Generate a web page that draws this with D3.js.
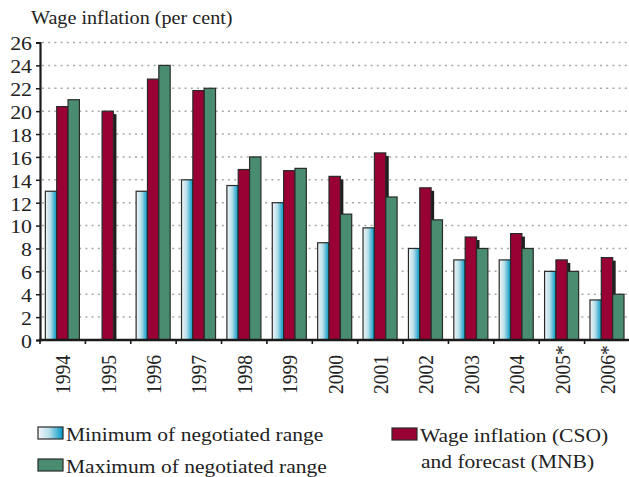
<!DOCTYPE html>
<html>
<head>
<meta charset="utf-8">
<script src="https://cdn.jsdelivr.net/npm/d3@7"></script>
<style>
  body { margin: 0; background: #fff; }
  svg { display: block; font-family: "Liberation Serif", "Times New Roman", serif; }
</style>
</head>
<body>
<svg id="chart" width="629" height="477"></svg>
<script>
// data
var years = ["1994","1995","1996","1997","1998","1999","2000","2001","2002","2003","2004","2005*","2006*"];
var minRange = [13, null, 13, 14, 13.5, 12, 8.5, 9.8, 8, 7, 7, 6, 3.5];
var wageCSO  = [20.4, 20, 22.8, 21.8, 14.9, 14.8, 14.3, 16.35, 13.3, 9, 9.3, 7, 7.2];
var maxRange = [21, null, 24, 22, 16, 15, 11, 12.5, 10.5, 8, 8, 6, 4];
var yTicks = d3.range(0, 27, 2);

var svg = d3.select("#chart");
var stretch = 1.12; // the original type is a bit wide

var plotL = 40, plotR = 630, plotT = 42.5, plotB = 340;

var x0 = d3.scaleBand().domain(years).range([plotL, plotR]);
var x1 = d3.scaleBand().domain(["min", "cso", "max"])
  .range([x0.bandwidth() * 0.118, x0.bandwidth() * 0.868]);
var y = d3.scaleLinear().domain([0, 26]).range([plotB, plotT]);

// gradient for the minimum bars
var defs = svg.append("defs");
var grad = defs.append("linearGradient").attr("id", "blueGrad")
  .attr("x1", "0").attr("x2", "1").attr("y1", "0").attr("y2", "0");
grad.append("stop").attr("offset", "0").attr("stop-color", "#f4f6f8");
grad.append("stop").attr("offset", "0.45").attr("stop-color", "#b6dfea");
grad.append("stop").attr("offset", "1").attr("stop-color", "#0096c6");

var colors = { min: "url(#blueGrad)", cso: "#990033", max: "#4a8c6f" };

// dotted gridlines
svg.append("g").selectAll("line")
  .data(yTicks.filter(function(d) { return d > 0; }))
  .enter().append("line")
  .attr("x1", plotL + 2).attr("x2", 629)
  .attr("y1", function(d) { return y(d); })
  .attr("y2", function(d) { return y(d); })
  .attr("stroke", "#a8a8a8")
  .attr("stroke-width", 1.5)
  .attr("stroke-dasharray", "2,4.2");

// build rows
var rows = years.map(function(yr, i) {
  return { year: yr, min: minRange[i], cso: wageCSO[i], max: maxRange[i] };
});

var groups = svg.append("g").selectAll("g")
  .data(rows).enter().append("g")
  .attr("transform", function(d) { return "translate(" + x0(d.year) + ",0)"; });

// shadow behind the wage inflation bars
groups.append("rect")
  .attr("x", x1("cso") + 3)
  .attr("y", function(d) { return y(d.cso) + 3; })
  .attr("width", x1.bandwidth())
  .attr("height", function(d) { return plotB - y(d.cso) - 3; })
  .attr("fill", "#1e1e1e");

["min", "cso", "max"].forEach(function(k) {
  groups.filter(function(d) { return d[k] != null; })
    .append("rect")
    .attr("x", x1(k))
    .attr("y", function(d) { return y(d[k]); })
    .attr("width", x1.bandwidth())
    .attr("height", function(d) { return plotB - y(d[k]); })
    .attr("fill", colors[k])
    .attr("stroke", "#2a2a2a")
    .attr("stroke-width", 1.2);
});

// y axis
var yAxis = svg.append("g")
  .attr("transform", "translate(" + plotL + ",0)")
  .call(d3.axisLeft(y).tickValues(yTicks).tickSize(4).tickPadding(7));
yAxis.select(".domain").attr("stroke", "#1a1a1a").attr("stroke-width", 2.2);
yAxis.selectAll(".tick line").attr("stroke", "#1a1a1a").attr("stroke-width", 1.5);
yAxis.selectAll(".tick text")
  .attr("font-family", "Liberation Serif")
  .attr("font-size", 19.5)
  .attr("fill", "#222")
  .attr("dy", "0.38em")
  .attr("transform", "scale(" + stretch + ",1)")
  .attr("x", -8 / stretch);

// x axis line and ticks at the band edges
svg.append("line")
  .attr("x1", plotL - 1).attr("x2", 629)
  .attr("y1", plotB).attr("y2", plotB)
  .attr("stroke", "#1a1a1a").attr("stroke-width", 2.4);
svg.append("g").selectAll("line")
  .data(years).enter().append("line")
  .attr("x1", function(d) { return x0(d); })
  .attr("x2", function(d) { return x0(d); })
  .attr("y1", plotB).attr("y2", plotB + 4)
  .attr("stroke", "#1a1a1a").attr("stroke-width", 1.6);

// rotated year labels
svg.append("g").selectAll("text")
  .data(years).enter().append("text")
  .attr("transform", function(d) {
    return "translate(" + (x0(d) + x0.bandwidth() / 2) + ",394) scale(" + stretch + ",1) rotate(-90)";
  })
  .attr("dy", "0.35em")
  .attr("font-size", 19.5)
  .attr("fill", "#222")
  .text(function(d) { return d; });

// title
svg.append("text")
  .attr("transform", "translate(31,24) scale(" + stretch + ",1)")
  .attr("font-size", 18)
  .attr("fill", "#222")
  .text("Wage inflation (per cent)");

// legend
var legend = [
  { key: "min", x: 38, y: 427, lines: ["Minimum of negotiated range"] },
  { key: "max", x: 38, y: 459, lines: ["Maximum of negotiated range"] },
  { key: "cso", x: 392, y: 428, lines: ["Wage inflation (CSO)", "and forecast (MNB)"] }
];
legend.forEach(function(l) {
  svg.append("rect")
    .attr("x", l.x).attr("y", l.y)
    .attr("width", 25).attr("height", 12)
    .attr("fill", colors[l.key])
    .attr("stroke", "#2a2a2a").attr("stroke-width", 1.2);
  l.lines.forEach(function(t, i) {
    svg.append("text")
      .attr("transform", "translate(" + (l.x + 28 + i) + "," + (l.y + 14 + i * 26) + ") scale(" + stretch + ",1)")
      .attr("font-size", 19.2)
      .attr("fill", "#222")
      .text(t);
  });
});
</script>
</body>
</html>
